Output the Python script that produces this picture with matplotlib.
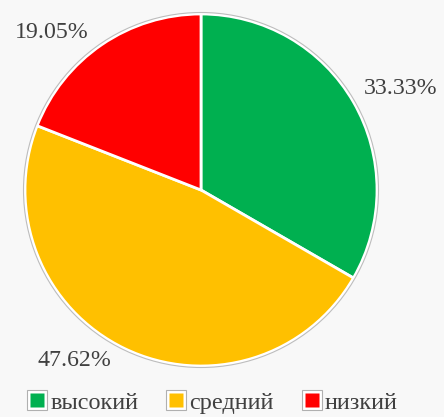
import matplotlib.pyplot as plt
from matplotlib.patches import Circle
from matplotlib.lines import Line2D
from matplotlib.legend_handler import HandlerTuple

# data
categories = ['высокий', 'средний', 'низкий']
values = [33.33, 47.62, 19.05]
colors = ['#00B050', '#FFC000', '#FF0000']
# label anchor points (pixels, from top-left)
label_pos = [(401, 88), (74, 361), (52, 32)]

plt.rcParams['font.family'] = ['Liberation Serif', 'DejaVu Serif']

W, H = 444, 417
fig = plt.figure(figsize=(W / 100, H / 100), dpi=100)
fig.patch.set_facecolor('#f8f8f8')
ax = fig.add_axes([0, 0, 1, 1])

cx, cy, r = 201, H - 190, 176

wedges, texts, autotexts = ax.pie(
    values, colors=colors, startangle=90, counterclock=False,
    center=(cx, cy), radius=r, autopct='%.2f%%', pctdistance=1.25,
    wedgeprops=dict(edgecolor='white', linewidth=2),
    textprops=dict(fontsize=17.2, color='#404040'),
    frame=True)
ax.set_xlim(0, W)
ax.set_ylim(0, H)
ax.set_aspect('equal')
ax.axis('off')

# thin grey rim round the pie
ax.add_patch(Circle((cx, cy), r + 1.5, facecolor='none', edgecolor='#bdbdbd', linewidth=0.8))

for t, (px, py) in zip(autotexts, label_pos):
    t.set_position((px, H - py))
    t.set_ha('center')
    t.set_va('center')

# legend keys: grey-framed white box with coloured square inside
handles = []
for c in colors:
    outer = Line2D([], [], ls='none', marker='s', markersize=14,
                   markerfacecolor='white', markeredgecolor='#b0b0b0', markeredgewidth=0.8)
    inner = Line2D([], [], ls='none', marker='s', markersize=10,
                   markerfacecolor=c, markeredgecolor='none')
    handles.append((outer, inner))

fig.legend(handles, categories, loc='lower center', ncol=3, frameon=False,
           fontsize=17.5, handlelength=0.85, handletextpad=0.1,
           columnspacing=1.15, bbox_to_anchor=(0.478, -0.045), labelcolor='#404040',
           handler_map={tuple: HandlerTuple(ndivide=1)})

fig.savefig('out.png', dpi=100, facecolor=fig.get_facecolor())
